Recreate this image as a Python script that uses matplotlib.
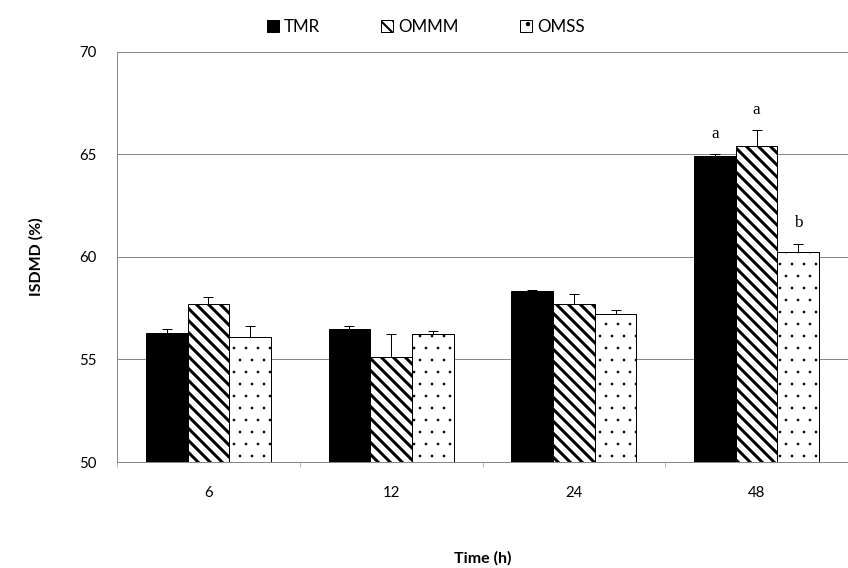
import matplotlib.pyplot as plt
import numpy as np

times = ["6", "12", "24", "48"]
series = ["TMR", "OMMM", "OMSS"]
tmr = [56.3, 56.5, 58.35, 64.9]
ommm = [57.7, 55.1, 57.7, 65.4]
omss = [56.1, 56.25, 57.2, 60.25]
tmr_err = [0.2, 0.12, 0.05, 0.12]
ommm_err = [0.35, 1.15, 0.5, 0.8]
omss_err = [0.55, 0.12, 0.2, 0.4]
letters_48 = ["a", "a", "b"]

dpi = 72
fig = plt.figure(figsize=(848 / dpi, 568 / dpi), dpi=dpi)
axis = fig.add_axes([0.138, 0.1866, 0.862, 0.722])

font = ["Lato", "DejaVu Sans"]
grey = "#888888"
x = np.arange(len(times))
width = 0.228

values = [tmr, ommm, omss]
errors = [tmr_err, ommm_err, omss_err]
hatches = [None, "\\\\", "."]
hatch_lws = [1.0, 3.0, 0.2]
faces = ["black", "white", "white"]
offsets = [-width, 0, width]

handles = []
for vals, errs, hatch, hlw, face, off, name in zip(values, errors, hatches, hatch_lws, faces, offsets, series):
    plt.rcParams["hatch.linewidth"] = hlw
    bars = axis.bar(
        x + off, vals, width, color=face, edgecolor="black", linewidth=1.0,
        hatch=hatch, label=name, zorder=3,
    )
    axis.errorbar(
        x + off, vals, yerr=[np.zeros(len(errs)), errs], fmt="none",
        ecolor="black", elinewidth=1.0, capsize=5, capthick=1.0, zorder=4,
    )
    handles.append(bars)

# significance letters above the 48 h group
for off, letter, val, err in zip(offsets, letters_48, [tmr[3], ommm[3], omss[3]],
                                 [tmr_err[3], ommm_err[3], omss_err[3]]):
    axis.text(3 + off, val + err + 0.6, letter, ha="center", va="bottom",
              fontsize=17, family="Liberation Serif")

axis.set_ylim(50, 70)
axis.set_xlim(-0.5, 3.5)
axis.set_yticks([50, 55, 60, 65, 70])
axis.set_xticks(x)
axis.set_xticklabels(times, family=font, fontsize=15)
axis.set_xticks(np.arange(-0.5, 4.0, 1.0), minor=True)
axis.tick_params(axis="x", which="major", length=0, pad=24)
axis.tick_params(axis="x", which="minor", length=5, color=grey, direction="out")
axis.tick_params(axis="y", length=0, pad=20, labelsize=15)
for label in axis.get_yticklabels():
    label.set_family(font)

axis.yaxis.grid(True, color=grey, linewidth=1.0, zorder=0)
axis.set_axisbelow(True)
for side in ["top", "right"]:
    axis.spines[side].set_visible(False)
for side in ["left", "bottom"]:
    axis.spines[side].set_color(grey)
    axis.spines[side].set_linewidth(1.0)

axis.set_xlabel("Time (h)", family=font, fontsize=16, fontweight="bold", labelpad=51)
axis.set_ylabel("ISDMD (%)", family=font, fontsize=16, fontweight="bold", labelpad=36)

plt.rcParams["hatch.linewidth"] = 2.0
legend = fig.legend(
    handles, series, loc="center", bbox_to_anchor=(0.502, 0.952), ncol=3,
    frameon=False, prop={"family": font, "size": 17},
    handlelength=0.7, handleheight=0.7, handletextpad=0.3, columnspacing=3.6,
)

fig.savefig("out.png", dpi=dpi)
